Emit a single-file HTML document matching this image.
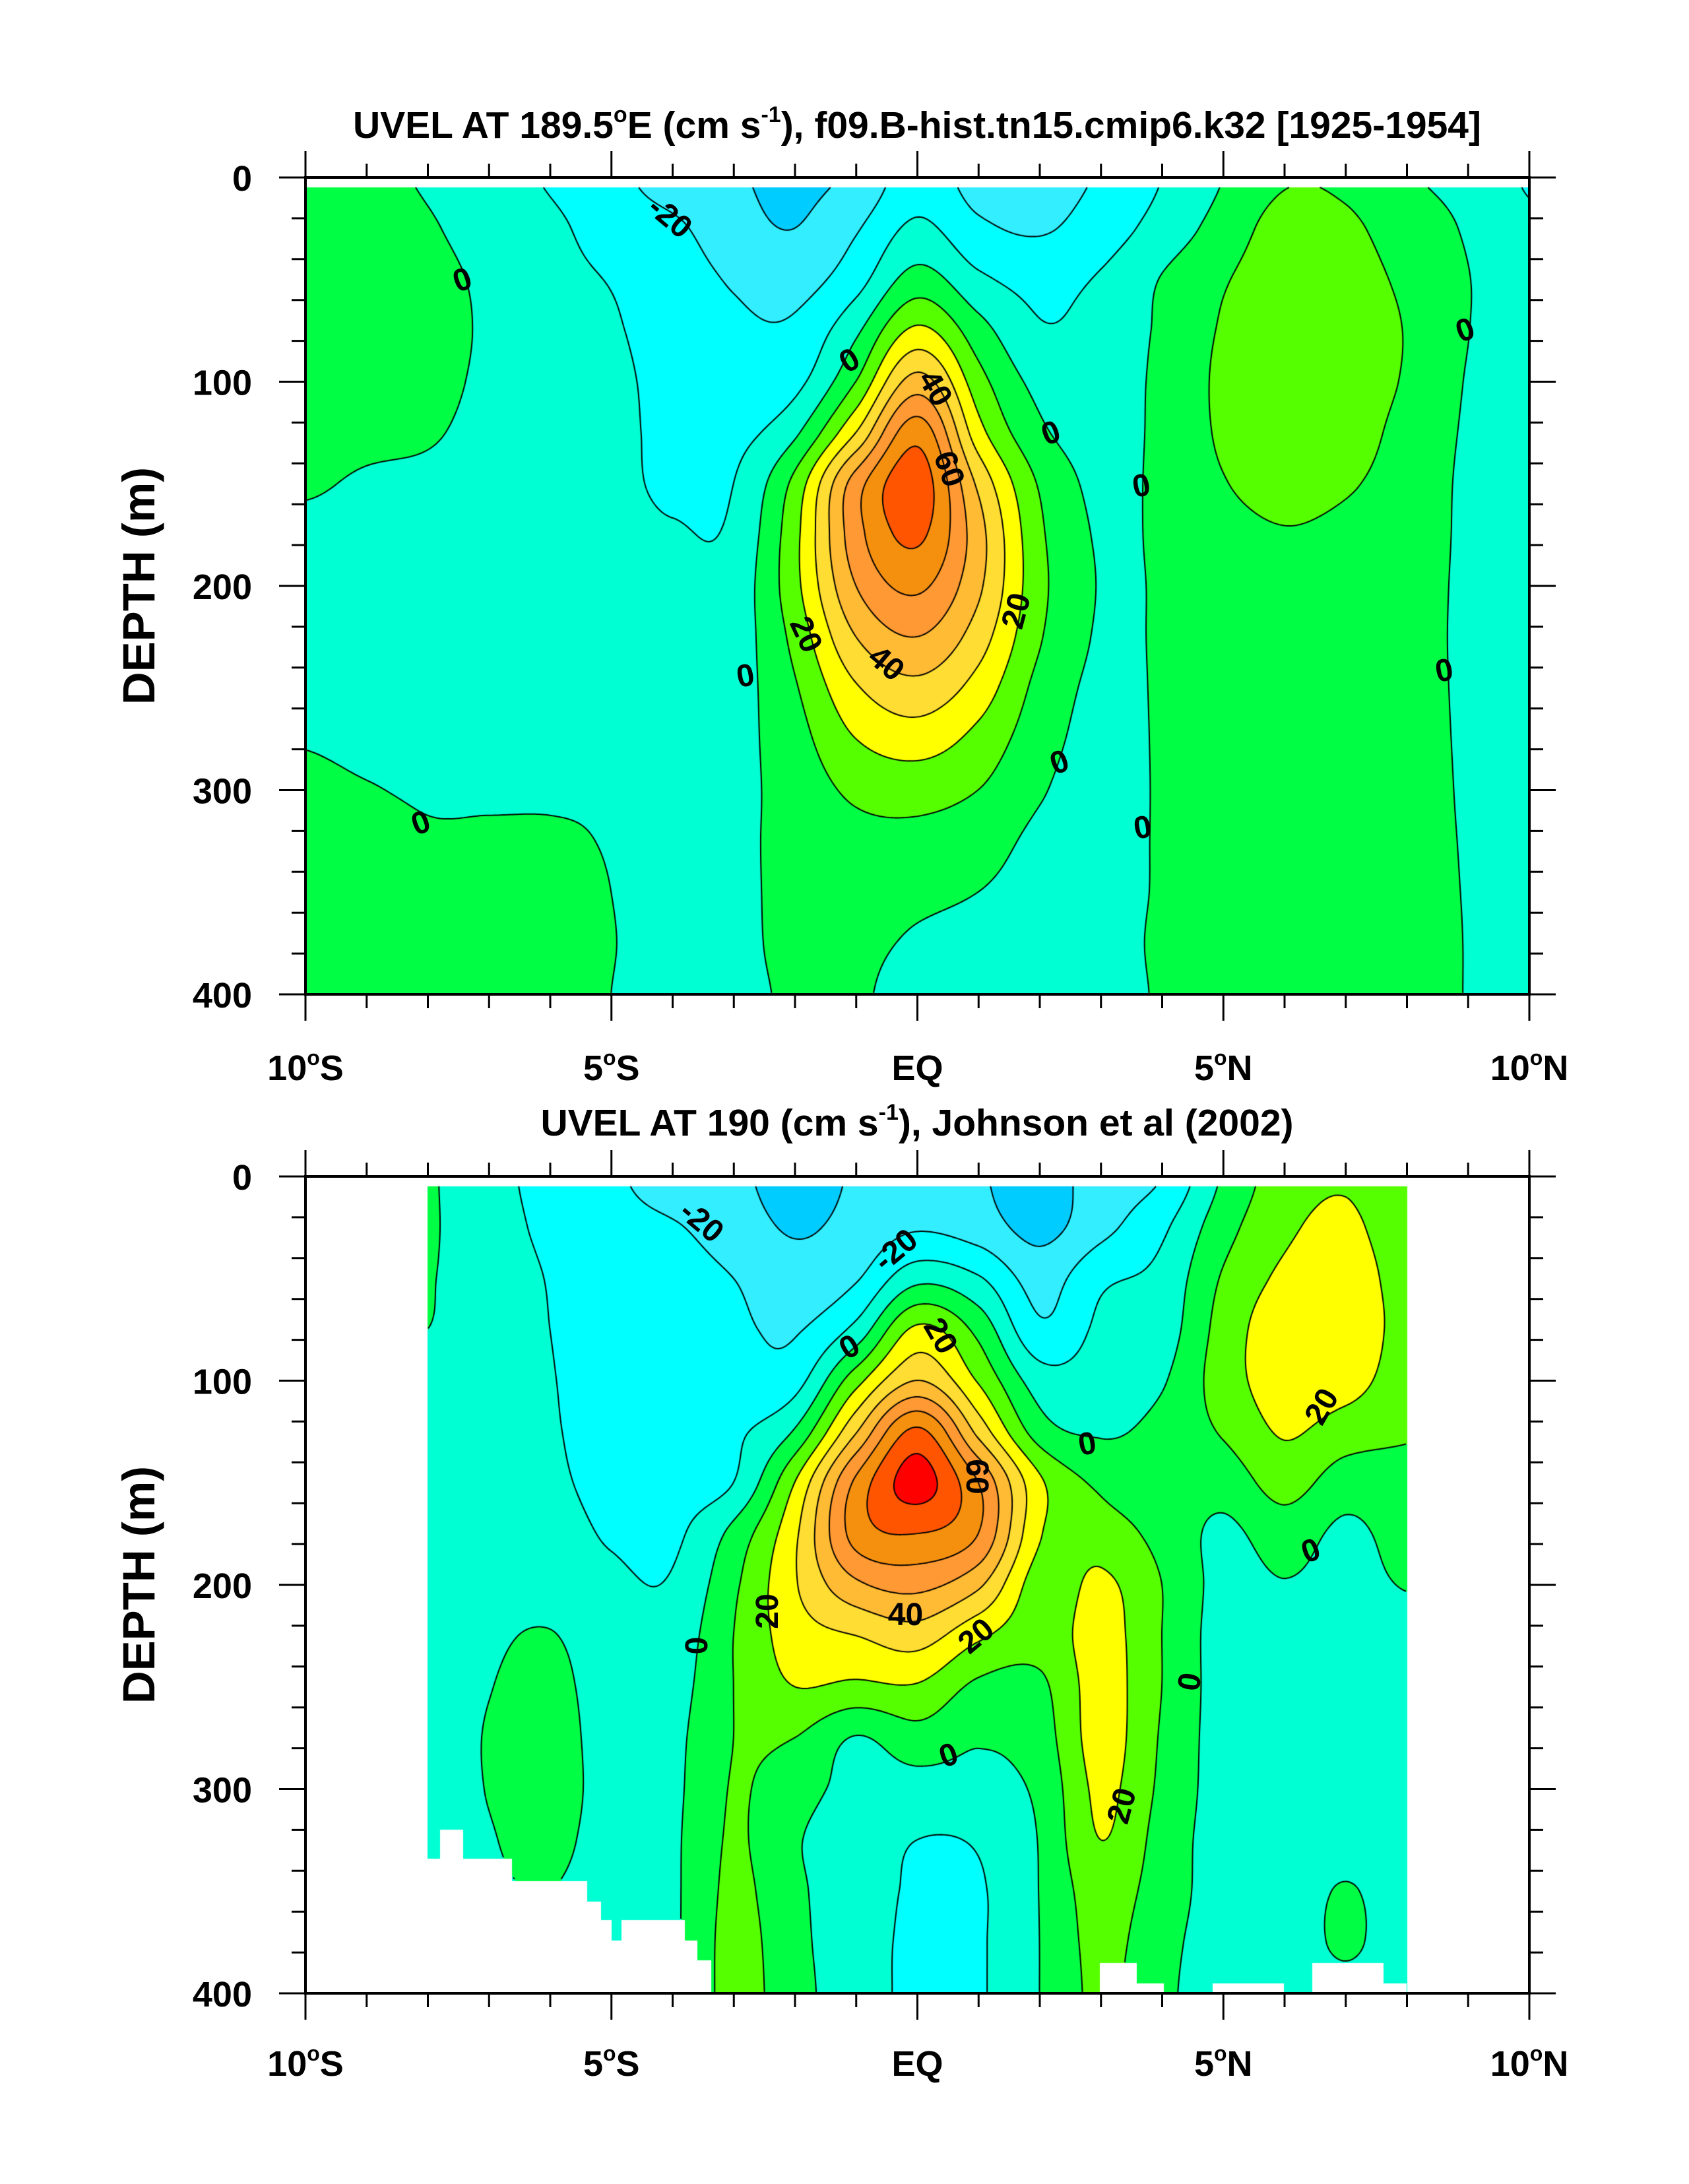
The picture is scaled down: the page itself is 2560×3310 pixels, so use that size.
<!DOCTYPE html>
<html><head><meta charset="utf-8">
<style>
html,body{margin:0;padding:0;background:#fff;}
#page{position:relative;width:2560px;height:3310px;overflow:hidden;background:#fff;font-family:"Liberation Sans",sans-serif;}
canvas{position:absolute;}
svg{position:absolute;left:0;top:0;}
.cl{position:absolute;font:bold 48px "Liberation Sans",sans-serif;color:#000;transform-origin:center center;white-space:nowrap;line-height:1;}
</style></head>
<body>
<div id="page">
<canvas id="c1"></canvas>
<canvas id="c2"></canvas>
<svg id="axes" width="2560" height="3310"></svg>
<div id="labels"></div>
</div>
<script>
// ---- data ----
const depths = [0,25,50,75,100,125,150,175,200,225,250,275,300,325,350,375,400];
const contourLevels = [-30,-20,-10,0,10,20,30,40,50,60,70,80];
const levelColors = ["#00ccff","#33eeff","#00ffff","#00ffd2","#00ff44","#55ff00","#ffff00","#ffdd33","#ffbb33","#ff9933","#f5900f","#ff5500","#ff0000"];
// model: latitude profiles (lat -10..10), values along depths
const modelLats = [-10,-9,-8,-7,-6,-5,-4,-3,-2,-1,0,1,2,3,4,5,6,7,8,9,10];
const modelU = [
[4,5,5,5,4,3,1,-2,-3,-3,-2,-0.5,2,3,4,4,4],
[2,4,5,5,4,2,-1,-3,-4,-4,-3,-2,0.5,3,4,4,4],
[-1,1,3,4,3,1,-2,-4,-5,-5,-4,-3,-1,1,3,4,4],
[-6,-4,-2,-1.5,-2,-3,-4,-5,-5,-5,-4,-3,-1,1,3,4,4],
[-11,-8,-7,-6,-6,-6,-6,-6,-6,-5,-4,-3,-1,1,3,3,3],
[-17,-14,-10.5,-9,-8,-7.5,-7,-6,-5,-4,-3,-2,-1,-0.5,0,0.3,0],
[-25,-18,-15,-14,-13,-12.5,-12,-9,-7,-6,-5,-4,-3,-3,-3,-3,-3],
[-29,-26,-21,-18,-16,-13,-10,-8,-6,-5,-4,-3,-2.5,-2,-2,-2,-2],
[-32,-30,-24,-18,-13,-2,13,17,17,13,9,6,4,3,2.5,2,1],
[-28,-21,-14,-2,10,30,55,56,50,40,29,20,12,7,4,2,1],
[-15,-8,4,22,44,66,76,72,62,50,37,25,14,7,2,-1,-3],
[-24,-18,-8,4,14,24,38,44,42,35,26,17,10,4,0,-2,-2],
[-24,-21,-13,-9,-3,2,9,12,13,11,7,4,1,-2,-3,-4,-4],
[-19,-15,-9,-6,-4,-3,-2,-1,-0.5,-1,-2,-3,-4,-4,-4,-4,-4],
[-10,-6,0.5,1.5,2,2,2,1.5,1,1,1,1,1,1,1,1.5,1],
[0,4,9,11,12,11.5,9.5,7,6,5,5,5,4.5,4.5,4,4,4],
[9,14,16,17,17,16,13,9.5,8,7,6.5,6,6,6,5,5,5],
[8,12,14,15,15,14,11,8,7,6,5,5,5,5,4,4,4],
[1,5,8,9.5,9,7,6,5,4,3.5,3,3,3,2.5,2,2,2],
[-3,-1,0.3,0.2,-0.5,-1,-1.5,-1.5,-1.5,-1.5,-1.2,-1,-0.8,-0.5,-0.3,-0.2,-0.2],
[-11,-8,-5,-4,-3,-3,-3,-3,-3,-3,-3,-3,-3,-3,-3,-3,-3]
];
// observations: latitude profiles (lat -8..8)
const obsLats = [-8,-7,-6,-5,-4,-3,-2,-1,0,1,2,3,4,5,6,7,8];
const obsU = [
[1,1,0.5,0,-3,-4,-4,-4,-4,-4,-4,-4,-4,-4,-4,-4,-4],
[-7,-6,-5,-5,-5,-5,-4,-4,-3,-1.5,-0.3,0.5,0.3,-0.5,-1,-1,-1],
[-13,-12,-10.5,-10,-9.5,-9,-8,-6,-4,0.5,3,4,3.5,2,0,-1,-1],
[-18,-16,-15,-14,-14,-14,-13,-11,-8,-6,-5,-4,-3,-3,-3,-3,-3],
[-26,-19,-16,-15,-15,-15,-14,-12,-9,-6,-4,-2.5,-2,-1.5,-1.5,-1.5,-1],
[-28,-25,-20,-18,-16,-12,-10,3,8,10,10,10,10.5,11,12,13,13],
[-34,-31,-26,-21,-14,1,20,28,29,25,20,10,4,1,2,3,4],
[-29,-27,-21,-7,16,39,62,64,48,30,18,-0.5,-3,-5,-6,-7,-7],
[-25,-21,-3,22,40,72,84,70,53,35,19,6,-4,-10,-11,-11,-11],
[-29,-25,-9,7,19,37,60,60,42,22,8,1,-3,-9,-11,-11,-11],
[-35,-33,-24,-18,-5,5,22,21,15,14,8,5,2,0.5,0.2,0,0],
[-25,-23,-12,-8,-5,-1,8,15,22,24,24,24,22,20,15,13,12],
[-20,-12,-7,-5,-1,3,5,7,10,10,10,9,8,6,5,3,2],
[1,6,11,14,15,11,4,-2,-3,-4,-4,-4,-4,-4,-4,-4,-4],
[15,18,22,26,25,21,14,5,-0.5,-3,-4,-4,-4,-4,-4,-4,-4],
[19,22,25,26,24,15,5,-2,-3,-4,-4,-4,-4,-3,0.5,1,-2],
[12,14,16,17,15,11,7,4,0.5,-3,-4,-4,-4,-4,-4,-4,-4]
];
// missing-data mask (lat from, lat to, depth below which no data)
const obsMaskLatFrom = [-8,-7.8,-7.42,-6.63,-5.4,-5.17,-5.0,-4.84,-3.8,-3.6,2.98,3.58,4.82,6.45,7.62];
const obsMaskLatTo   = [-7.8,-7.42,-6.63,-5.4,-5.17,-5.0,-4.84,-3.8,-3.6,-3.37,3.58,4.03,5.99,7.62,8];
const obsMaskDepth   = [334,320,334,345,355,364,374,364,374,384,385,395,395,385,395];
const xTickLats = [-10,-5,0,5,10];
const xTickText = [["10","S"],["5","S"],["EQ",""],["5","N"],["10","N"]];
const yTickDepths = [0,100,200,300,400];

// ---- layout ----
const L=463,R=2318,W=R-L;
const plots=[{T:269,B:1507,canvas:'c1',lats:modelLats,u:modelU,latMin:-10,latMax:10,mask:false,
  title:['UVEL AT 189.5','E (cm s','), f09.B-hist.tn15.cmip6.k32 [1925-1954]'],titleY:209,xlabY:1637},
 {T:1783,B:3021,canvas:'c2',lats:obsLats,u:obsU,latMin:-8,latMax:8,mask:true,
  title:['UVEL AT 190 (cm s','), Johnson et al (2002)'],titleY:1721,xlabY:3146}];
const xOf=lat=>L+(lat+10)/20*W;

function cr(p0,p1,p2,p3,t){return 0.5*((2*p1)+(-p0+p2)*t+(2*p0-5*p1+4*p2-p3)*t*t+(-p0+3*p1-3*p2+p3)*t*t*t);}
function hex(c){return [parseInt(c.slice(1,3),16),parseInt(c.slice(3,5),16),parseInt(c.slice(5,7),16)];}
const rgb=levelColors.map(hex);

function masked(lat,d){
  for(let i=0;i<obsMaskDepth.length;i++){
    if(lat>=obsMaskLatFrom[i]&&lat<obsMaskLatTo[i]&&d>obsMaskDepth[i])return true;}
  return false;}

function drawPlot(p){
  const H=p.B-p.T;
  const cv=document.getElementById(p.canvas);
  cv.width=W;cv.height=H;cv.style.left=L+'px';cv.style.top=p.T+'px';
  const ctx=cv.getContext('2d');
  const nc=p.lats.length,nr=depths.length;
  const colRows=[];
  for(let c=0;c<nc;c++){
    const a=new Float32Array(H);const prof=p.u[c];
    for(let y=0;y<H;y++){
      const d=(y+0.5)/H*400;const fy=d/25;let i=Math.floor(fy);if(i>nr-2)i=nr-2;const t=fy-i;
      const g=k=>prof[Math.max(0,Math.min(nr-1,k))];
      a[y]=cr(g(i-1),g(i),g(i+1),g(i+2),t);}
    colRows.push(a);}
  const F=new Float32Array(W*H);
  const lat0=p.lats[0];
  for(let x=0;x<W;x++){
    const lat=-10+(x+0.5)/W*20;
    const fx=(lat-lat0);let i=Math.floor(fx);if(i>nc-2)i=nc-2;if(i<0)i=0;const t=fx-i;
    const g=k=>colRows[Math.max(0,Math.min(nc-1,k))];
    const a0=g(i-1),a1=g(i),a2=g(i+1),a3=g(i+2);
    for(let y=0;y<H;y++){
      const d=(y+0.5)/H*400;
      let v;
      if(d<5||lat<p.latMin||lat>p.latMax||(p.mask&&masked(lat,d)))v=NaN;
      else v=cr(a0[y],a1[y],a2[y],a3[y],t);
      F[y*W+x]=v;}
  }
  const img=ctx.createImageData(W,H);const D=img.data;
  for(let k=0;k<W*H;k++){
    const v=F[k];let r=255,g=255,b=255;
    if(!isNaN(v)){let idx=0;while(idx<contourLevels.length&&v>=contourLevels[idx])idx++;[r,g,b]=rgb[idx];}
    D[k*4]=r;D[k*4+1]=g;D[k*4+2]=b;D[k*4+3]=255;}
  ctx.putImageData(img,0,0);
  const s=3;ctx.strokeStyle='#000';ctx.lineWidth=2;ctx.beginPath();
  for(const lv of contourLevels){
    for(let y=0;y+s<H;y+=s){for(let x=0;x+s<W;x+=s){
      const v0=F[y*W+x],v1=F[y*W+x+s],v2=F[(y+s)*W+x+s],v3=F[(y+s)*W+x];
      if(isNaN(v0)||isNaN(v1)||isNaN(v2)||isNaN(v3))continue;
      const pts=[];
      if((v0<lv)!==(v1<lv))pts.push([x+s*(lv-v0)/(v1-v0),y]);
      if((v1<lv)!==(v2<lv))pts.push([x+s,y+s*(lv-v1)/(v2-v1)]);
      if((v3<lv)!==(v2<lv))pts.push([x+s*(lv-v3)/(v2-v3),y+s]);
      if((v0<lv)!==(v3<lv))pts.push([x,y+s*(lv-v0)/(v3-v0)]);
      if(pts.length>=2){ctx.moveTo(pts[0][0],pts[0][1]);ctx.lineTo(pts[1][0],pts[1][1]);}
      if(pts.length===4){ctx.moveTo(pts[2][0],pts[2][1]);ctx.lineTo(pts[3][0],pts[3][1]);}
    }}
  }
  ctx.stroke();
}

const NS='http://www.w3.org/2000/svg';
const svg=document.getElementById('axes');
function mk(tag,attrs,parent){const e=document.createElementNS(NS,tag);for(const k in attrs)e.setAttribute(k,attrs[k]);(parent||svg).appendChild(e);return e;}

plots.forEach((p,pi)=>{
  drawPlot(p);
  const H=p.B-p.T;const yOf=d=>p.T+d/400*H;
  const g=mk('g',{});
  
  
  const fr=mk('rect',{x:L,y:p.T,width:W,height:H,fill:'none',stroke:'#000','stroke-width':4},g);
  
  
  for(let lat=-10;lat<=10;lat++){
    const major=lat%5===0;const len=major?40:21;const x=xOf(lat);
    const t1=mk('line',{x1:x,x2:x,y1:p.B,y2:p.B+len,stroke:'#000','stroke-width':3},g);
    
    
    const t2=mk('line',{x1:x,x2:x,y1:p.T,y2:p.T-len,stroke:'#000','stroke-width':3},g);
    
    
  }
  for(let d=0;d<=400;d+=20){
    const major=d%100===0;const len=major?40:21;const y=yOf(d);
    const t1=mk('line',{x1:L,x2:L-len,y1:y,y2:y,stroke:'#000','stroke-width':3},g);
    
    
    const t2=mk('line',{x1:R,x2:R+len,y1:y,y2:y,stroke:'#000','stroke-width':3},g);
    
    
  }
  yTickDepths.forEach(d=>{
    const t=mk('text',{x:382,y:yOf(d)+20,'text-anchor':'end','font-size':54,'font-weight':'bold','font-family':'Liberation Sans, sans-serif'},g);
    t.textContent=String(d);
    
    
  });
  xTickLats.forEach((lat,i)=>{
    const t=mk('text',{x:xOf(lat),y:p.xlabY,'text-anchor':'middle','font-size':54,'font-weight':'bold','font-family':'Liberation Sans, sans-serif'},g);
    
    
    const [a,b]=xTickText[i];
    if(b){const s1=mk('tspan',{},t);s1.textContent=a;const s2=mk('tspan',{'font-size':32,dy:-23},t);s2.textContent='o';const s3=mk('tspan',{dy:23},t);s3.textContent=b;}
    else t.textContent=a;
  });
  const yt=mk('text',{x:0,y:0,'text-anchor':'middle','font-size':69,'font-weight':'bold','font-family':'Liberation Sans, sans-serif',transform:`translate(234,${(p.T+p.B)/2}) rotate(-90)`},g);
  yt.textContent='DEPTH (m)';
  
  
  const tt=mk('text',{x:1390,y:p.titleY,'text-anchor':'middle','font-size':57,'font-weight':'bold','font-family':'Liberation Sans, sans-serif'},g);
  
  
  if(pi===0){
    let s=mk('tspan',{},tt);s.textContent=p.title[0];
    s=mk('tspan',{'font-size':34,dy:-24},tt);s.textContent='o';
    s=mk('tspan',{dy:24},tt);s.textContent=p.title[1];
    s=mk('tspan',{'font-size':34,dy:-24},tt);s.textContent='-1';
    s=mk('tspan',{dy:24},tt);s.textContent=p.title[2];
  }else{
    let s=mk('tspan',{},tt);s.textContent=p.title[0];
    s=mk('tspan',{'font-size':34,dy:-24},tt);s.textContent='-1';
    s=mk('tspan',{dy:24},tt);s.textContent=p.title[1];
  }
});

const labTxt=["-20","0","0","40","0","60","0","0","20","20","0","40","0","0","0","0",
 "-20","-20","20","0","0","60","20","0","20","40","20","0","0","0","20"];
const labX=[482,333,612,673,757,683,822,1055,580,732,537,638,1040,763,303,823,
 505,645,677,612,783,703,952,944,553,652,703,502,857,683,808];
const labY=[157,202,260,280,312,338,350,238,457,440,487,478,483,549,593,596,
 880,900,962,970,1040,1063,1013,1117,1160,1163,1178,1185,1211,1264,1300];
const labR=[40,-20,-30,60,-20,70,-10,-20,65,-75,-10,40,-10,-20,-20,-10,
 40,-40,60,-30,-10,90,-60,-20,-90,0,-40,-90,-80,-20,-75];
const ld=document.getElementById('labels');
labTxt.forEach((t,i)=>{
  const e=document.createElement('div');e.className='cl';e.textContent=t;
  
  
  e.style.left=(labX[i]*2.105)+'px';e.style.top=(labY[i]*2.105)+'px';
  e.style.transform=`translate(-50%,-50%) rotate(${labR[i]}deg)`;
  ld.appendChild(e);
});
</script>
</body></html>
